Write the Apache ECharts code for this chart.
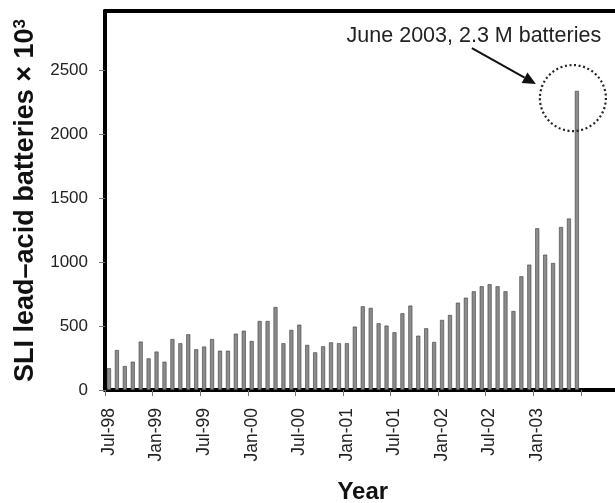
<!DOCTYPE html>
<html>
<head>
<meta charset="utf-8">
<script src="https://cdn.jsdelivr.net/npm/echarts@6/dist/echarts.min.js"></script>
<style>
html,body{margin:0;padding:0;background:#fff;}
#chart{width:615px;height:503px;}
</style>
</head>
<body>
<div id="chart"></div>
<script>
// Months shown on the category axis (Jul-98 .. Nov-03)
var months = ['Jul-98','Aug-98','Sep-98','Oct-98','Nov-98','Dec-98',
  'Jan-99','Feb-99','Mar-99','Apr-99','May-99','Jun-99','Jul-99','Aug-99','Sep-99','Oct-99','Nov-99','Dec-99',
  'Jan-00','Feb-00','Mar-00','Apr-00','May-00','Jun-00','Jul-00','Aug-00','Sep-00','Oct-00','Nov-00','Dec-00',
  'Jan-01','Feb-01','Mar-01','Apr-01','May-01','Jun-01','Jul-01','Aug-01','Sep-01','Oct-01','Nov-01','Dec-01',
  'Jan-02','Feb-02','Mar-02','Apr-02','May-02','Jun-02','Jul-02','Aug-02','Sep-02','Oct-02','Nov-02','Dec-02',
  'Jan-03','Feb-03','Mar-03','Apr-03','May-03','Jun-03','Jul-03','Aug-03','Sep-03','Oct-03','Nov-03'];

// SLI lead-acid batteries (x 10^3), Jul-98 .. Jun-03
var batteries = [170, 312, 187, 221, 378, 247,
  300, 221, 398, 365, 435, 318, 339, 398, 307, 307, 440, 463,
  383, 539, 539, 648, 365, 469, 510, 352, 294, 341, 372, 365,
  365, 495, 654, 641, 521, 503, 451, 599, 659, 424, 482, 375,
  547, 586, 682, 721, 771, 810, 826, 810, 771, 617, 888, 979,
  1263, 1057, 992, 1273, 1339, 2336];

var yTicks = [0, 500, 1000, 1500, 2000, 2500];
var noteText = 'June 2003, 2.3 M batteries';
var noteMonth = 'Jun-03';
var noteCircleValue = 2280;

var chart = echarts.init(document.getElementById('chart'), null, {renderer: 'canvas'});
var FONT = 'Liberation Sans, Arial, sans-serif';

var option = {
  animation: false,
  backgroundColor: '#ffffff',
  grid: {left: 105, width: 515.5, top: 11, bottom: 113, containLabel: false, outerBoundsMode: 'none'},
  xAxis: [{
    type: 'category',
    data: months,
    boundaryGap: true,
    axisLine: {show: true, lineStyle: {color: '#000', width: 4}},
    axisTick: {show: true, length: 6, interval: function (i) { return i % 6 === 0; }, lineStyle: {color: '#777', width: 1}},
    axisLabel: {
      rotate: 90, margin: 18, color: '#222', fontSize: 17.5, fontFamily: FONT,
      interval: function (i) { return i % 6 === 0 && i < 60; }
    },
    splitLine: {show: false},
    name: 'Year', nameLocation: 'middle', nameGap: 90,
    nameTextStyle: {fontSize: 24, fontWeight: 'bold', color: '#111', fontFamily: FONT}
  }, {
    type: 'category', position: 'top', data: months,
    axisLine: {show: true, lineStyle: {color: '#000', width: 4}},
    axisTick: {show: false}, axisLabel: {show: false}
  }],
  yAxis: {
    type: 'value', min: 0, max: 2960, interval: 500,
    axisLine: {show: true, lineStyle: {color: '#000', width: 4}},
    axisTick: {show: true, length: 6, lineStyle: {color: '#777', width: 1}},
    axisLabel: {
      color: '#222', fontSize: 17, fontFamily: FONT, margin: 17, showMaxLabel: false,
      formatter: function (v) { return yTicks.indexOf(v) >= 0 ? String(v) : ''; }
    },
    splitLine: {show: false},
    name: 'SLI lead\u2013acid batteries \u00d7 10{sup|3}',
    nameLocation: 'middle', nameGap: 63,
    nameTextStyle: {
      fontSize: 27, fontWeight: 'bold', color: '#111', fontFamily: FONT,
      rich: {sup: {fontSize: 17, fontWeight: 'bold', verticalAlign: 'top', padding: [0, 0, 11, 0], fontFamily: FONT, color: '#111'}}
    }
  },
  series: [{
    type: 'bar',
    data: batteries,
    barWidth: 4,
    itemStyle: {color: '#8c8c8c', borderColor: '#3a3a3a', borderWidth: 0.6},
    silent: true
  }]
};
chart.setOption(option);

// Annotation anchored at the June 2003 bar
var c = chart.convertToPixel({xAxisIndex: 0, yAxisIndex: 0}, [noteMonth, noteCircleValue]);
var cx = c[0] - 4, cy = c[1];
var ax0 = cx - 101, ay0 = cy - 50, ax1 = cx - 37, ay1 = cy - 14;
var dx = ax1 - ax0, dy = ay1 - ay0, L = Math.sqrt(dx * dx + dy * dy);
var ux = dx / L, uy = dy / L, hl = 13, hw = 6;
var bx = ax1 - ux * hl, by = ay1 - uy * hl;
chart.setOption({
  graphic: [
    {type: 'circle', shape: {cx: cx, cy: cy, r: 33}, style: {fill: 'none', stroke: '#222', lineWidth: 2.2, lineDash: [2, 2.6]}, z: 100},
    {type: 'line', shape: {x1: ax0, y1: ay0, x2: bx, y2: by}, style: {stroke: '#111', lineWidth: 2}, z: 100},
    {type: 'polygon', shape: {points: [[ax1, ay1], [bx - uy * hw, by + ux * hw], [bx + uy * hw, by - ux * hw]]}, style: {fill: '#111'}, z: 100},
    {type: 'text', x: cx - 99, y: cy - 62, style: {text: noteText, fontSize: 21.5, fontFamily: FONT, fill: '#222', textAlign: 'center', textVerticalAlign: 'middle'}, z: 100}
  ]
});
</script>
</body>
</html>
